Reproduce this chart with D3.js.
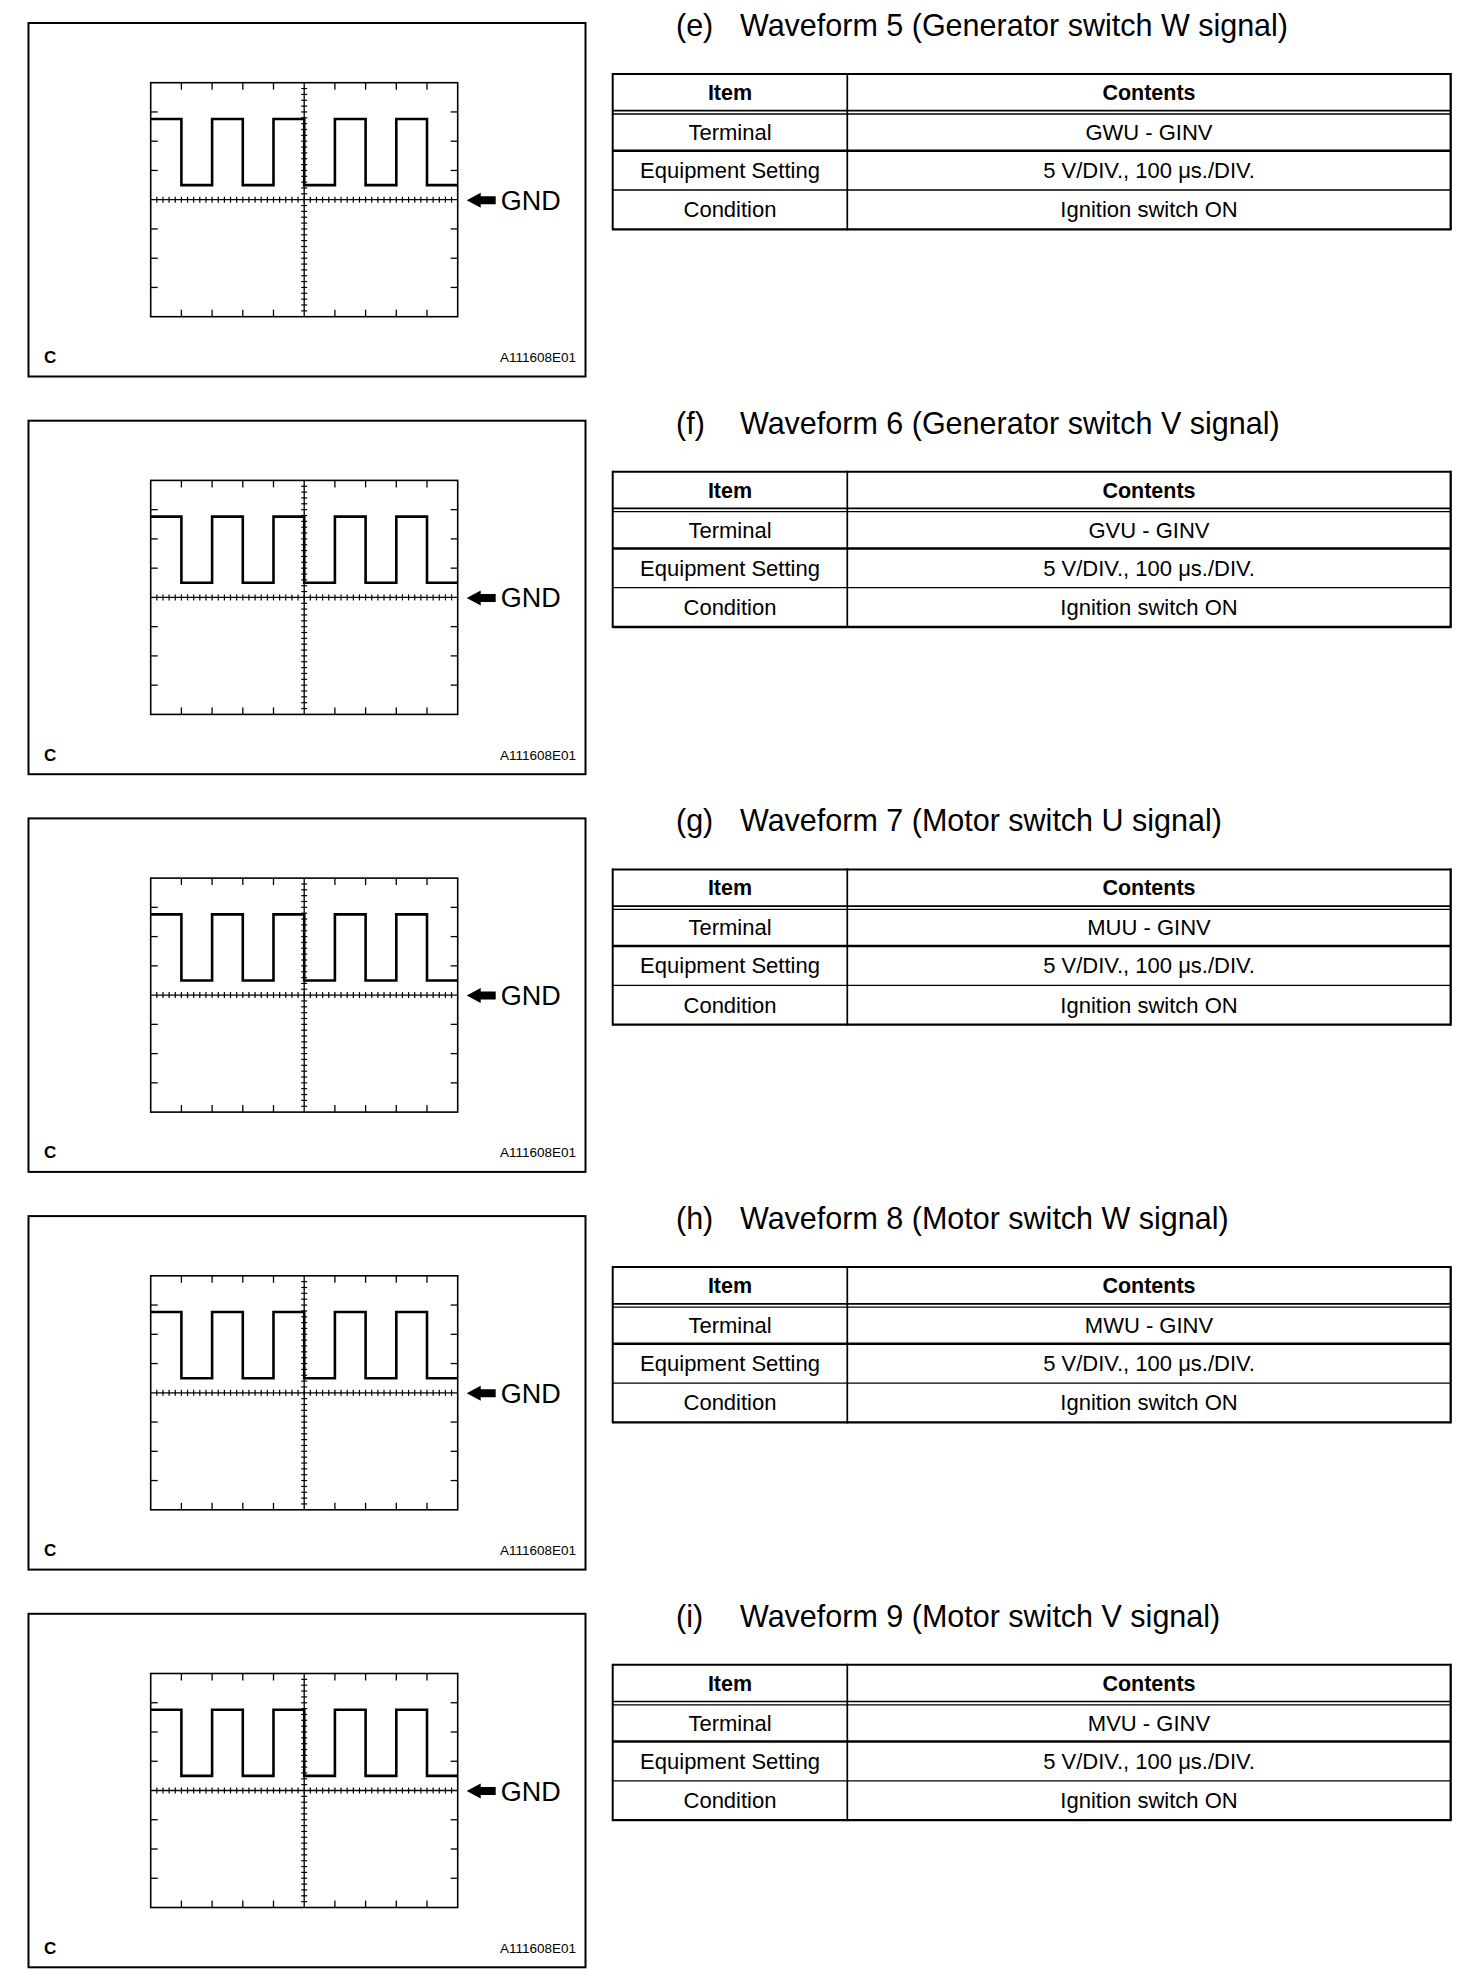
<!DOCTYPE html>
<html>
<head>
<meta charset="utf-8">
<script src="https://cdn.jsdelivr.net/npm/d3@7"></script>
<style>
  body { margin: 0; background: #fff; }
</style>
</head>
<body>
<div id="chart"></div>
<script>
// ---- data ----
const sectionLetters = ["e", "f", "g", "h", "i"];
const waveformNumbers = [5, 6, 7, 8, 9];
const signalNames = [
  "Generator switch W signal",
  "Generator switch V signal",
  "Motor switch U signal",
  "Motor switch W signal",
  "Motor switch V signal"
];
const terminals = ["GWU - GINV", "GVU - GINV", "MUU - GINV", "MWU - GINV", "MVU - GINV"];
const headerLabels = ["Item", "Contents"];
const rowItems = ["Terminal", "Equipment Setting", "Condition"];
const equipmentSetting = "5 V/DIV., 100 \u03bcs./DIV.";
const conditionText = "Ignition switch ON";
const cornerLetter = "C";
const figureCode = "A111608E01";

// waveform: time of each edge (µs) and the level held after it (V)
const edgeTimes = [0, 100, 200, 300, 400, 500, 600, 700, 800, 900, 1000];
const edgeVolts = [13.8, 2.5, 13.8, 2.5, 13.8, 2.5, 13.8, 2.5, 13.8, 2.5, 2.5];
const timeDomain = [0, 1000];   // 10 div x 100 us
const voltDomain = [-20, 20];   // 8 div x 5 V
const timeDiv = 100, voltDiv = 5;
const timeMinor = 20, voltMinor = 1;

// ---- layout ----
const width = 1472, height = 1982;
const step = 397.7;
const font = "'Liberation Sans', Arial, Helvetica, sans-serif";

const frame = { x: 28.5, y: 23, w: 557, h: 353.5 };
const grid = { x: 150.7, y: 82.7, w: 307, h: 234 };
const table = { x: 612.7, y: 74, w: 838, col: 234.6 };
const rowLines = [0, 36.7, 40, 76.7, 116, 155.3];

const svg = d3.select("#chart")
  .append("svg")
  .attr("width", width)
  .attr("height", height)
  .style("background-color", "#fff");

const xScale = d3.scaleLinear().domain(timeDomain).range([0, grid.w]);
const yScale = d3.scaleLinear().domain(voltDomain).range([grid.h, 0]);

const wave = edgeTimes.map((t, i) => ({ t: t, v: edgeVolts[i] }));

const line = d3.line()
  .x(d => xScale(d.t))
  .y(d => yScale(d.v))
  .curve(d3.curveStepAfter);

const majorT = d3.range(timeDomain[0] + timeDiv, timeDomain[1], timeDiv).filter(t => t !== 500);
const majorV = d3.range(voltDomain[0] + voltDiv, voltDomain[1], voltDiv).filter(v => v !== 0);
const minorT = d3.range(timeDomain[0] + timeMinor, timeDomain[1], timeMinor);
const minorV = d3.range(voltDomain[0] + voltMinor, voltDomain[1], voltMinor).filter(v => v !== 0);
const tickLen = 7, minorLen = 3;

sectionLetters.forEach((letter, i) => {
  const oy = i * step;

  // outer frame of the figure
  svg.append("rect")
    .attr("x", frame.x).attr("y", frame.y + oy)
    .attr("width", frame.w).attr("height", frame.h)
    .attr("fill", "none").attr("stroke", "#000").attr("stroke-width", 2);

  const g = svg.append("g")
    .attr("transform", `translate(${grid.x}, ${grid.y + oy})`);

  g.append("rect")
    .attr("width", grid.w).attr("height", grid.h)
    .attr("fill", "none").attr("stroke", "#000").attr("stroke-width", 1.6);

  // centre axes
  g.append("line")
    .attr("x1", xScale(500)).attr("x2", xScale(500))
    .attr("y1", 0).attr("y2", grid.h)
    .attr("stroke", "#000").attr("stroke-width", 1.3);
  g.append("line")
    .attr("x1", 0).attr("x2", grid.w)
    .attr("y1", yScale(0)).attr("y2", yScale(0))
    .attr("stroke", "#000").attr("stroke-width", 1.3);

  // division ticks on the border
  majorT.forEach(t => {
    g.append("line").attr("x1", xScale(t)).attr("x2", xScale(t))
      .attr("y1", 0).attr("y2", tickLen).attr("stroke", "#000").attr("stroke-width", 1.3);
    g.append("line").attr("x1", xScale(t)).attr("x2", xScale(t))
      .attr("y1", grid.h - tickLen).attr("y2", grid.h).attr("stroke", "#000").attr("stroke-width", 1.3);
  });
  majorV.forEach(v => {
    g.append("line").attr("x1", 0).attr("x2", tickLen)
      .attr("y1", yScale(v)).attr("y2", yScale(v)).attr("stroke", "#000").attr("stroke-width", 1.3);
    g.append("line").attr("x1", grid.w - tickLen).attr("x2", grid.w)
      .attr("y1", yScale(v)).attr("y2", yScale(v)).attr("stroke", "#000").attr("stroke-width", 1.3);
  });

  // minor ticks on the centre axes
  g.selectAll(".minor-t")
    .data(minorT)
    .enter()
    .append("line")
    .attr("x1", d => xScale(d)).attr("x2", d => xScale(d))
    .attr("y1", yScale(0) - minorLen).attr("y2", yScale(0) + minorLen)
    .attr("stroke", "#000").attr("stroke-width", 1.2);
  g.selectAll(".minor-v")
    .data(minorV)
    .enter()
    .append("line")
    .attr("x1", xScale(500) - minorLen).attr("x2", xScale(500) + minorLen)
    .attr("y1", d => yScale(d)).attr("y2", d => yScale(d))
    .attr("stroke", "#000").attr("stroke-width", 1.2);

  // signal
  g.append("path")
    .datum(wave)
    .attr("d", line)
    .attr("fill", "none")
    .attr("stroke", "#000")
    .attr("stroke-width", 2.6)
    .attr("stroke-linejoin", "miter");

  // GND marker
  const gy = grid.y + oy + yScale(0) + 0.5;
  const ax = grid.x + grid.w + 9;
  svg.append("path")
    .attr("d", `M${ax},${gy} L${ax + 14},${gy - 7.5} L${ax + 14},${gy - 4} L${ax + 29},${gy - 4} L${ax + 29},${gy + 4} L${ax + 14},${gy + 4} L${ax + 14},${gy + 7.5} Z`)
    .attr("fill", "#000");
  svg.append("text")
    .attr("x", ax + 34).attr("y", gy + 9.5)
    .attr("font-family", font).attr("font-size", "27px")
    .text("GND");

  svg.append("text")
    .attr("x", 44).attr("y", 363 + oy)
    .attr("font-family", font).attr("font-size", "17px").attr("font-weight", "bold")
    .text(cornerLetter);
  svg.append("text")
    .attr("x", 576).attr("y", 362 + oy)
    .attr("text-anchor", "end")
    .attr("font-family", font).attr("font-size", "13.5px")
    .text(figureCode);

  // title
  svg.append("text")
    .attr("x", 676).attr("y", 36 + oy)
    .attr("font-family", font).attr("font-size", "30.5px")
    .text(`(${letter})`);
  svg.append("text")
    .attr("x", 740).attr("y", 36 + oy)
    .attr("font-family", font).attr("font-size", "30.5px")
    .text(`Waveform ${waveformNumbers[i]} (${signalNames[i]})`);

  // table
  const tg = svg.append("g")
    .attr("transform", `translate(${table.x}, ${table.y + oy})`);
  const hw = [2, 1.7, 1.3, 2.5, 1.3, 2.3];
  rowLines.forEach((ry, k) => {
    tg.append("line").attr("x1", 0).attr("x2", table.w)
      .attr("y1", ry).attr("y2", ry)
      .attr("stroke", "#000").attr("stroke-width", hw[k]);
  });
  [[0, 2], [table.col, 1.7], [table.w, 2.3]].forEach(([cx, sw]) => {
    tg.append("line").attr("x1", cx).attr("x2", cx)
      .attr("y1", -1).attr("y2", rowLines[5] + 1)
      .attr("stroke", "#000").attr("stroke-width", sw);
  });

  const c1 = table.col / 2, c2 = (table.col + table.w) / 2;
  const hy = rowLines[1] / 2 + 7.5;
  headerLabels.forEach((h, k) => {
    tg.append("text")
      .attr("x", k === 0 ? c1 : c2).attr("y", hy)
      .attr("text-anchor", "middle")
      .attr("font-family", font).attr("font-size", "21.5px").attr("font-weight", "bold")
      .text(h);
  });
  const contents = [terminals[i], equipmentSetting, conditionText];
  const mids = [(rowLines[2] + rowLines[3]) / 2, (rowLines[3] + rowLines[4]) / 2, (rowLines[4] + rowLines[5]) / 2];
  rowItems.forEach((item, k) => {
    tg.append("text")
      .attr("x", c1).attr("y", mids[k] + 7.5)
      .attr("text-anchor", "middle")
      .attr("font-family", font).attr("font-size", "22px")
      .text(item);
    tg.append("text")
      .attr("x", c2).attr("y", mids[k] + 7.5)
      .attr("text-anchor", "middle")
      .attr("font-family", font).attr("font-size", "22px")
      .text(contents[k]);
  });
});
</script>
</body>
</html>
